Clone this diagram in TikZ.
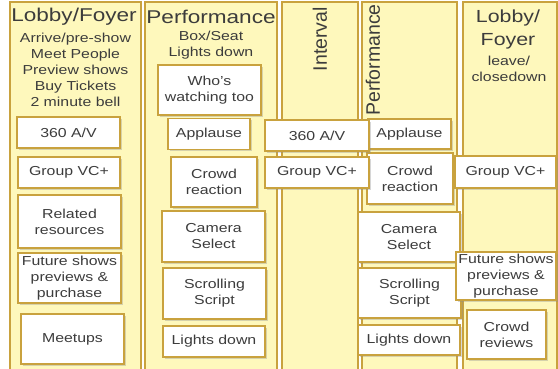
\documentclass[tikz,border=0pt]{standalone}
\usepackage{fontspec}
\setmainfont[FakeStretch=1.22]{Liberation Sans}
\newfontfamily\rotfont{Liberation Sans}
\usetikzlibrary{shadows}

\definecolor{panelfill}{HTML}{FEF8BC}
\definecolor{panelline}{HTML}{C9A23E}
\definecolor{inkgray}{HTML}{3C3C3C}

\newcommand\headfont{\fontsize{18.5}{23}\selectfont}
\newcommand\smallheadfont{\fontsize{17.5}{23}\selectfont}
\newcommand\bodyfont{\fontsize{13}{16}\selectfont}
\newcommand\sidefont{\rotfont\fontsize{19.5}{22}\selectfont}

\tikzset{
  panel/.style={draw=panelline, line width=1.4pt, fill=panelfill},
  heading/.style={text=inkgray, font=\headfont, align=center, inner sep=0pt},
  notes/.style={text=inkgray, font=\bodyfont, align=center, inner sep=0pt},
  sideheading/.style={text=inkgray, font=\sidefont, rotate=90, anchor=east, inner sep=0pt},
  card/.style={draw=panelline, line width=1.7pt, fill=white, text=inkgray,
    align=center, font=\bodyfont, inner sep=0pt,
    drop shadow={shadow xshift=1.5pt, shadow yshift=-1.5pt, opacity=0.35, fill=black!45}},
}

\begin{document}
\begin{tikzpicture}[x=1pt, y=-1pt]
\useasboundingbox (0,0) rectangle (558,368);
\clip (0,0) rectangle (558,368);

% columns of the evening
\draw[panel] (10,2) rectangle (141,380);
\draw[panel] (145,2) rectangle (277,380);
\draw[panel] (282,2) rectangle (358,380);
\draw[panel] (362,2) rectangle (457,380);
\draw[panel] (463,2) rectangle (557,380);

% column headings
\node[heading] (lobbyA) at (74,17) {Lobby/Foyer};
\node[notes] (lobbyAnotes) at (75.5,69.5) {Arrive/pre-show\\Meet People\\Preview shows\\Buy Tickets\\2 minute bell};
\node[heading] (perfA) at (211,17) {Performance};
\node[notes] (perfAnotes) at (211,45.5) {Box/Seat\\Lights down};
\node[sideheading] (interval) at (320,7) {Interval};
\node[sideheading] (perfB) at (373,4) {Performance};
\node[heading, font=\smallheadfont] (lobbyB) at (508,29) {Lobby/\\Foyer};
\node[notes] (lobbyBnotes) at (509,69) {leave/\\closedown};

% lobby before the show
\node[card, minimum width=103, minimum height=31] (avA) at (68.5,132.5) {360 A/V};
\node[card, minimum width=102, minimum height=31] (vcA) at (69,172.5) {Group VC+};
\node[card, minimum width=103, minimum height=53] (resources) at (69.5,221.5) {Related\\resources};
\node[card, minimum width=103, minimum height=50] (futureA) at (69.5,278) {Future shows\\previews \&\\purchase};
\node[card, minimum width=103, minimum height=50] (meetups) at (72.5,339) {Meetups};

% first half
\node[card, minimum width=103, minimum height=50] (watching) at (209.5,90) {Who’s\\watching too};
\node[card, minimum width=82, minimum height=31] (applauseA) at (209,134) {Applause};
\node[card, minimum width=86, minimum height=50] (crowdA) at (214,182) {Crowd\\reaction};
\node[card, minimum width=103, minimum height=51] (cameraA) at (213.5,236.5) {Camera\\Select};
\node[card, minimum width=103, minimum height=51] (scriptA) at (214.5,293.5) {Scrolling\\Script};
\node[card, minimum width=102, minimum height=31] (lightsA) at (214,341.5) {Lights down};

% second half
\node[card, minimum width=83, minimum height=30] (applauseB) at (409.5,134) {Applause};
\node[card, minimum width=86, minimum height=51] (crowdB) at (410,178.5) {Crowd\\reaction};
\node[card, minimum width=102, minimum height=50] (cameraB) at (409,237) {Camera\\Select};
\node[card, minimum width=103, minimum height=50] (scriptB) at (409.5,293) {Scrolling\\Script};
\node[card, minimum width=102, minimum height=30] (lightsB) at (409,340) {Lights down};

% interval
\node[card, minimum width=104, minimum height=31] (avB) at (317,135.5) {360 A/V};
\node[card, minimum width=104, minimum height=31] (vcB) at (317,172.5) {Group VC+};

% lobby after the show
\node[card, minimum width=101, minimum height=32] (vcC) at (505.5,172) {Group VC+};
\node[card, minimum width=100, minimum height=48] (futureB) at (506,276) {Future shows\\previews \&\\purchase};
\node[card, minimum width=79, minimum height=49] (reviews) at (506.5,334.5) {Crowd\\reviews};
\end{tikzpicture}
\end{document}
